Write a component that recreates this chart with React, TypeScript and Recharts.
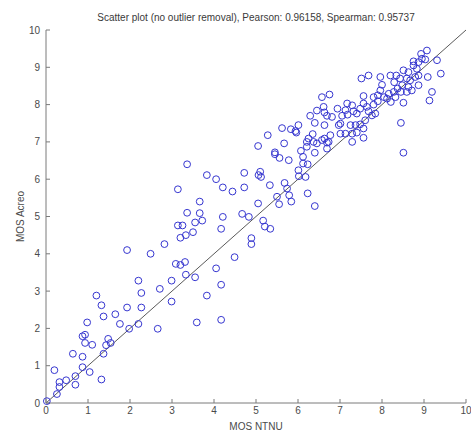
import { ScatterChart, Scatter, XAxis, YAxis, ReferenceLine } from "recharts";

// MOS NTNU (x) vs MOS Acreo (y)
const axisTicks = [0, 1, 2, 3, 4, 5, 6, 7, 8, 9, 10];

const lowScores: [number, number][] = [
  [0.02, 0.05], [0.2, 0.88], [0.26, 0.24], [0.32, 0.56], [0.32, 0.43], [0.48, 0.61],
  [0.7, 0.72], [0.7, 0.49], [0.64, 1.32], [0.87, 0.96], [0.87, 1.24], [0.87, 1.79],
  [0.93, 1.83], [0.93, 1.61], [0.98, 2.16], [1.04, 0.83], [1.1, 1.56], [1.2, 2.88],
  [1.32, 2.62], [1.37, 2.32], [1.32, 0.63], [1.37, 1.32], [1.43, 1.55], [1.48, 1.72],
  [1.54, 1.61], [1.65, 2.38], [1.76, 2.12], [1.93, 2.56], [1.98, 1.99], [2.2, 3.28],
  [2.27, 2.95], [2.27, 2.56], [2.2, 2.12], [2.66, 1.99], [2.71, 3.06], [2.99, 3.28],
  [2.99, 2.72],
];

const midScores: [number, number][] = [
  [1.93, 4.1], [2.49, 4.0], [2.82, 4.26], [3.14, 5.73], [3.36, 6.4], [3.36, 5.1],
  [3.14, 4.76], [3.25, 4.76], [3.2, 4.43], [3.33, 4.5], [3.09, 3.73], [3.2, 3.7],
  [3.31, 3.78], [3.33, 3.44], [3.83, 6.11], [4.05, 6.0], [4.21, 5.78], [4.44, 5.67],
  [4.72, 6.17], [4.72, 5.78], [5.06, 6.11], [5.12, 6.06], [5.1, 6.2], [5.33, 5.84],
  [5.45, 6.67], [5.56, 6.57], [5.78, 6.51], [6.07, 6.76], [6.12, 6.6], [6.4, 6.71],
  [6.12, 6.42], [6.23, 6.4], [6.01, 6.24], [6.02, 6.08], [6.18, 6.06], [5.68, 5.9],
  [5.74, 5.75], [5.5, 5.53], [5.79, 5.57], [5.55, 5.33], [5.84, 5.4], [6.23, 5.62],
  [6.4, 5.28], [5.05, 5.35], [3.66, 5.4], [3.66, 5.09], [3.55, 4.84], [3.72, 4.89],
  [3.5, 4.58], [4.21, 4.99], [4.17, 4.67], [4.67, 5.07], [4.83, 4.99], [5.17, 4.89],
  [5.21, 4.73], [5.34, 4.67], [4.89, 4.42], [4.89, 4.26], [4.49, 3.91], [4.05, 3.61],
  [3.55, 3.37], [4.17, 3.17], [3.83, 2.88], [3.59, 2.16], [4.17, 2.23],
];

const upperScores: [number, number][] = [
  [5.05, 6.89], [5.28, 7.18], [5.45, 6.72], [5.62, 7.37], [5.67, 6.96], [5.83, 7.34],
  [5.94, 7.29], [6.01, 7.45], [5.96, 7.25], [6.25, 7.09], [6.35, 7.21], [6.29, 7.7],
  [6.45, 7.84], [6.4, 7.51], [6.57, 8.2], [6.75, 8.27], [6.69, 7.7], [6.63, 7.45],
  [6.21, 7.0], [6.37, 7.0], [6.45, 6.96], [6.57, 7.05], [6.69, 6.98], [6.69, 6.82],
  [6.21, 6.87],
];

const highScores: [number, number][] = [
  [6.94, 7.89], [7.17, 8.03], [7.29, 7.98], [7.13, 7.85], [7.32, 7.82], [7.56, 8.23],
  [7.56, 8.03], [7.68, 7.82], [7.8, 8.2], [7.8, 8.0], [7.96, 8.74], [8.0, 8.53],
  [7.96, 8.38], [8.05, 8.2], [8.16, 8.29], [8.2, 8.78], [8.34, 8.78], [8.29, 8.6],
  [8.43, 8.7], [8.48, 8.52], [8.37, 8.43], [8.28, 8.34], [8.51, 8.92], [8.63, 8.87],
  [8.59, 8.7], [8.67, 8.65], [8.63, 8.47], [8.75, 9.16], [8.87, 9.14], [8.95, 9.23],
  [9.03, 9.21], [8.93, 9.36], [9.07, 9.45], [8.75, 9.05], [8.83, 8.96], [9.31, 9.19],
  [9.4, 8.83], [9.09, 8.74], [8.87, 8.78], [8.79, 8.74], [8.87, 8.52], [8.71, 8.38],
  [8.59, 8.34], [9.19, 8.34], [9.13, 8.11], [8.51, 8.05], [8.45, 7.51], [8.51, 6.71],
  [7.68, 8.78], [7.51, 8.7], [7.9, 8.25], [7.9, 8.09], [8.12, 8.16], [8.21, 8.07],
  [8.32, 8.2], [8.45, 8.34], [7.64, 7.94], [7.48, 7.89], [7.4, 7.76], [7.18, 7.73],
  [7.05, 7.7], [6.81, 7.67], [6.61, 7.94], [6.63, 7.79], [6.97, 7.45], [7.01, 7.49],
  [7.25, 7.45], [7.37, 7.45], [7.48, 7.47], [7.6, 7.58], [7.56, 7.36], [7.4, 7.25],
  [7.29, 7.22], [7.13, 7.22], [7.01, 7.22], [6.77, 7.18], [6.63, 7.09], [6.73, 7.0],
  [7.29, 7.0], [7.56, 7.11], [7.76, 7.71], [7.84, 7.76],
];

const points = [...lowScores, ...midScores, ...upperScores, ...highScores].map(
  ([ntnu, acreo]) => ({ ntnu, acreo })
);

const font = "'Liberation Sans', Arial, sans-serif";
const axisGray = "#7a7a7a";
const tickFont = { fontSize: 10, fill: "#4a4a4a", fontFamily: font };

const Ring = (props: any) => (
  <circle cx={props.cx} cy={props.cy} r={3.4} fill="none" stroke="#3636d0" strokeWidth={1} />
);

const NoLabel = () => <g />;

export default function App() {
  return (
    <div
      style={{
        position: "absolute",
        left: 0,
        top: 0,
        width: 471,
        height: 431,
        background: "#fff",
        fontFamily: font,
      }}
    >
      <div
        style={{
          position: "absolute",
          left: 46,
          top: 12,
          width: 420,
          textAlign: "center",
          fontSize: 10,
          lineHeight: "12px",
          color: "#3a3a3a",
          whiteSpace: "nowrap",
        }}
      >
        Scatter plot (no outlier removal), Pearson: 0.96158, Spearman: 0.95737
      </div>
      <ScatterChart
        width={471}
        height={431}
        margin={{ top: 30, right: 5, left: 0, bottom: 0 }}
        style={{ fontFamily: font }}
      >
        <XAxis
          xAxisId="bottom"
          type="number"
          dataKey="ntnu"
          domain={[0, 10]}
          ticks={axisTicks}
          height={28}
          stroke={axisGray}
          tickSize={-4}
          tickMargin={8}
          tick={tickFont}
          label={{
            value: "MOS NTNU",
            position: "insideBottom",
            offset: 1,
            style: { fontSize: 10, fill: "#4a4a4a", fontFamily: font },
          }}
        />
        <XAxis
          xAxisId="top"
          orientation="top"
          type="number"
          dataKey="ntnu"
          domain={[0, 10]}
          ticks={axisTicks}
          height={0}
          stroke={axisGray}
          tickSize={-4}
          tick={NoLabel}
        />
        <YAxis
          yAxisId="left"
          type="number"
          dataKey="acreo"
          domain={[0, 10]}
          ticks={axisTicks}
          width={46}
          stroke={axisGray}
          tickSize={-4}
          tickMargin={10}
          tick={tickFont}
          label={{
            value: "MOS Acreo",
            angle: -90,
            position: "insideLeft",
            offset: 20,
            style: { fontSize: 10, fill: "#4a4a4a", fontFamily: font, textAnchor: "middle" },
          }}
        />
        <YAxis
          yAxisId="right"
          orientation="right"
          type="number"
          dataKey="acreo"
          domain={[0, 10]}
          ticks={axisTicks}
          width={0}
          stroke={axisGray}
          tickSize={-4}
          tick={NoLabel}
        />
        <ReferenceLine
          xAxisId="bottom"
          yAxisId="left"
          segment={[
            { x: 0, y: 0 },
            { x: 10, y: 10 },
          ]}
          stroke="#5a5a5a"
          strokeWidth={1}
        />
        <Scatter
          xAxisId="bottom"
          yAxisId="left"
          data={points}
          shape={Ring}
          isAnimationActive={false}
        />
      </ScatterChart>
    </div>
  );
}
